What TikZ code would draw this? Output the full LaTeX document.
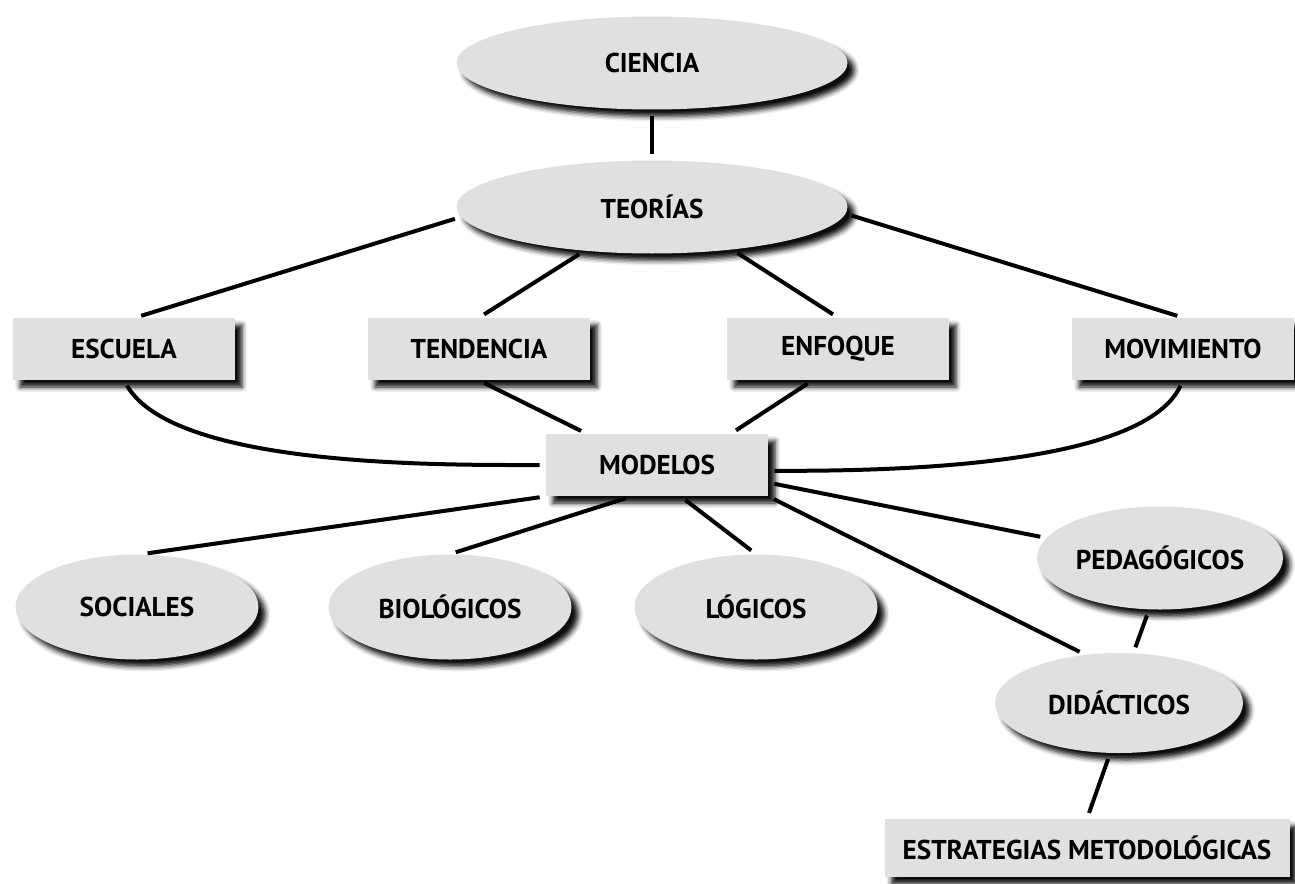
\documentclass[tikz,border=0pt]{standalone}
\usepackage{fontspec}
\setsansfont{PT Sans}
\usetikzlibrary{shapes.geometric,shadows.blur}
\definecolor{relleno}{RGB}{224,224,224}
\tikzset{
  sombra/.style={
    blur shadow={shadow xshift=3.5pt, shadow yshift=-3.5pt,
      shadow blur radius=2.5pt, shadow opacity=95}
  },
  concepto/.style={
    shape = ellipse,
    fill = relleno,
    sombra,
    inner sep = 0pt,
    minimum width=121.5pt,
    minimum height=52.5pt
  },
  caja/.style={
    shape = rectangle,
    fill = relleno,
    sombra,
    inner sep = 0pt,
    minimum width=111pt,
    minimum height=31pt
  },
  enlace/.style={
    line width=2pt,
    shorten <=3pt,
    shorten >=3pt
  },
  every node/.style = {
    font=\sffamily\bfseries\fontsize{13.6}{16}\selectfont
  }
}
\begin{document}
\begin{tikzpicture}[x=0.5pt,y=-0.5pt]
    \useasboundingbox (0,0) rectangle (1295,883);
    % nodos
    \node[concepto, minimum width=195.5pt, minimum height=46.5pt] (ciencia) at (652,63) {CIENCIA};
    \node[concepto, minimum width=195.5pt, minimum height=46.5pt] (teorias) at (652,207) {TEORÍAS};
    \node[caja] (escuela) at (124,349) {ESCUELA};
    \node[caja] (tendencia) at (479,349) {TENDENCIA};
    \node[caja] (enfoque) at (838,349) {ENFOQUE};
    \node[caja] (movimiento) at (1183,349) {MOVIMIENTO};
    \node[caja] (modelos) at (657,465) {MODELOS};
    \node[concepto] (sociales) at (137,607) {SOCIALES};
    \node[concepto] (biologicos) at (450,607) {BIOLÓGICOS};
    \node[concepto] (logicos) at (756,607) {LÓGICOS};
    \node[concepto, minimum width=123pt, minimum height=51.5pt] (pedagogicos) at (1160,558) {PEDAGÓGICOS};
    \node[concepto, minimum width=124pt, minimum height=50pt] (didacticos) at (1119,703) {DIDÁCTICOS};
    \node[caja, minimum width=202.5pt, minimum height=29pt] (estrategias) at (1087,848) {ESTRATEGIAS METODOLÓGICAS};
    % enlaces
    \draw[enlace] (ciencia.south) -- (teorias.north);
    \draw[enlace] (teorias.183) -- (escuela.70);
    \draw[enlace] (teorias.213) -- (tendencia.north);
    \draw[enlace] (teorias.-28) -- (enfoque.north);
    \draw[enlace] (teorias.-2) -- (movimiento.north);
    \draw[enlace] (escuela.south) to[out=-60, in=180, looseness=0.6] (modelos.west);
    \draw[enlace] (tendencia.south) -- (modelos.156);
    \draw[enlace] (enfoque.231) -- (modelos.23);
    \draw[enlace] (movimiento.south) to[out=-115, in=0, looseness=0.6] (modelos.-3);
    \draw[enlace] (modelos.south west) -- (sociales.85);
    \draw[enlace] (modelos.231) -- (biologicos.north);
    \draw[enlace] (modelos.-53) -- (logicos.north);
    \draw[enlace] (modelos.-9) -- (pedagogicos.170);
    \draw[enlace] (modelos.south east) -- (didacticos.125);
    \draw[enlace] (pedagogicos.258) -- (didacticos.74);
    \draw[enlace] (didacticos.260) -- (estrategias.north);
\end{tikzpicture}
\end{document}
